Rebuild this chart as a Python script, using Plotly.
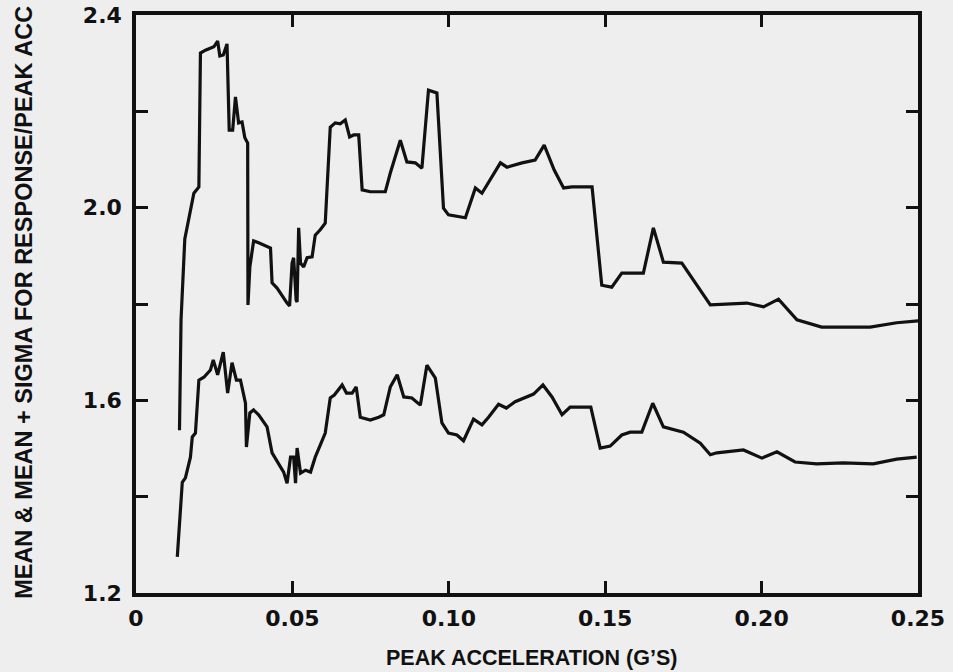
import plotly.graph_objects as go

# Peak acceleration (g's) and response ratios
upper_x = [0.0139, 0.0144, 0.0156, 0.0177, 0.0185, 0.0201, 0.0206, 0.0222, 0.0249, 0.0261,
           0.0268, 0.0279, 0.0291, 0.0298, 0.0309, 0.0318, 0.0328, 0.0339, 0.0348, 0.0357,
           0.0358, 0.0364, 0.0376, 0.0392, 0.0419, 0.0430, 0.0435, 0.0451, 0.0483, 0.0491,
           0.0499, 0.0504, 0.0512, 0.0515, 0.0520, 0.0526, 0.0536, 0.0547, 0.0563, 0.0573,
           0.0589, 0.0605, 0.0621, 0.0637, 0.0653, 0.0669, 0.0683, 0.0696, 0.0712, 0.0723,
           0.0749, 0.0797, 0.0813, 0.0845, 0.0866, 0.0893, 0.0914, 0.0935, 0.0962, 0.0983,
           0.0999, 0.1053, 0.1085, 0.1106, 0.1165, 0.1186, 0.1234, 0.1276, 0.1305, 0.1337,
           0.1367, 0.1394, 0.1458, 0.1489, 0.1521, 0.1553, 0.1622, 0.1654, 0.1686, 0.1745,
           0.1836, 0.1953, 0.2006, 0.2054, 0.2113, 0.2192, 0.2347, 0.2432, 0.2501]
upper_y = [1.538, 1.767, 1.935, 2.010, 2.030, 2.043, 2.321, 2.327, 2.334, 2.346,
           2.315, 2.317, 2.340, 2.161, 2.161, 2.230, 2.176, 2.178, 2.145, 2.134,
           1.798, 1.877, 1.931, 1.927, 1.918, 1.916, 1.844, 1.833, 1.802, 1.796,
           1.885, 1.896, 1.808, 1.804, 1.958, 1.885, 1.877, 1.896, 1.898, 1.943,
           1.954, 1.968, 2.167, 2.176, 2.174, 2.182, 2.147, 2.151, 2.151, 2.037,
           2.033, 2.033, 2.072, 2.140, 2.095, 2.093, 2.082, 2.244, 2.238, 1.999,
           1.985, 1.979, 2.041, 2.030, 2.093, 2.084, 2.093, 2.099, 2.130, 2.078,
           2.041, 2.043, 2.043, 1.839, 1.835, 1.864, 1.864, 1.958, 1.887, 1.885,
           1.798, 1.802, 1.794, 1.810, 1.767, 1.752, 1.752, 1.761, 1.765]

mean_x = [0.0132, 0.0148, 0.0158, 0.0174, 0.0180, 0.0190, 0.0201, 0.0217, 0.0238, 0.0247,
          0.0261, 0.0279, 0.0293, 0.0307, 0.0321, 0.0334, 0.0350, 0.0353, 0.0364, 0.0376,
          0.0392, 0.0419, 0.0435, 0.0456, 0.0472, 0.0483, 0.0494, 0.0504, 0.0510, 0.0515,
          0.0526, 0.0542, 0.0558, 0.0573, 0.0589, 0.0605, 0.0621, 0.0634, 0.0659, 0.0673,
          0.0691, 0.0704, 0.0717, 0.0749, 0.0776, 0.0792, 0.0813, 0.0835, 0.0856, 0.0882,
          0.0909, 0.0930, 0.0957, 0.0978, 0.0999, 0.1026, 0.1047, 0.1079, 0.1106, 0.1127,
          0.1159, 0.1184, 0.1212, 0.1250, 0.1271, 0.1301, 0.1330, 0.1362, 0.1388, 0.1454,
          0.1484, 0.1516, 0.1553, 0.1580, 0.1617, 0.1652, 0.1686, 0.1750, 0.1804, 0.1836,
          0.1857, 0.1942, 0.2001, 0.2049, 0.2107, 0.2176, 0.2261, 0.2357, 0.2432, 0.2496]
mean_y = [1.275, 1.430, 1.439, 1.482, 1.524, 1.532, 1.642, 1.648, 1.663, 1.684,
          1.653, 1.700, 1.615, 1.678, 1.642, 1.642, 1.594, 1.503, 1.574, 1.580,
          1.570, 1.545, 1.491, 1.470, 1.451, 1.428, 1.482, 1.482, 1.428, 1.501,
          1.449, 1.455, 1.451, 1.482, 1.507, 1.532, 1.605, 1.611, 1.632, 1.615,
          1.615, 1.628, 1.565, 1.559, 1.565, 1.570, 1.628, 1.653, 1.607, 1.605,
          1.590, 1.673, 1.646, 1.553, 1.532, 1.528, 1.516, 1.561, 1.549, 1.565,
          1.592, 1.584, 1.597, 1.607, 1.613, 1.632, 1.607, 1.570, 1.586, 1.586,
          1.501, 1.505, 1.528, 1.534, 1.534, 1.594, 1.545, 1.534, 1.511, 1.487,
          1.491, 1.497, 1.480, 1.493, 1.472, 1.468, 1.470, 1.468, 1.478, 1.482]

x_tickvals = [0, 0.05, 0.10, 0.15, 0.20, 0.25]
x_ticktext = ["0", "0.05", "0.10", "0.15", "0.20", "0.25"]
y_tickvals = [1.2, 1.4, 1.6, 1.8, 2.0, 2.2, 2.4]
y_ticktext = ["1.2", "", "1.6", "", "2.0", "", "2.4"]

x_title = "PEAK ACCELERATION (G’S)"
y_title = "MEAN &amp; MEAN + SIGMA FOR RESPONSE/PEAK ACC"

ink = "#111111"
paper = "#eeeeee"

fig = go.Figure()
fig.add_trace(go.Scatter(x=upper_x, y=upper_y, mode="lines",
                         line=dict(color=ink, width=3.2), showlegend=False,
                         name="Mean + sigma"))
fig.add_trace(go.Scatter(x=mean_x, y=mean_y, mode="lines",
                         line=dict(color=ink, width=3.2), showlegend=False,
                         name="Mean"))

tickfont = dict(family="DejaVu Sans", size=22, color=ink, weight="bold")
fig.update_xaxes(range=[0, 0.25], tickvals=x_tickvals, ticktext=x_ticktext,
                 ticks="inside", ticklen=12, tickwidth=3, tickcolor=ink,
                 showline=True, linewidth=3.5, linecolor=ink, mirror="ticks",
                 showgrid=False, zeroline=False, tickfont=tickfont,
                 ticklabelstandoff=3, automargin=False)
fig.update_yaxes(range=[1.2, 2.4], tickvals=y_tickvals, ticktext=y_ticktext,
                 ticks="inside", ticklen=12, tickwidth=3, tickcolor=ink,
                 showline=True, linewidth=3.5, linecolor=ink, mirror="ticks",
                 showgrid=False, zeroline=False, tickfont=tickfont,
                 ticklabelstandoff=6, automargin=False)

fig.add_annotation(text=x_title, xref="paper", yref="paper", x=0.506, y=-0.1125,
                   xanchor="center", yanchor="middle", showarrow=False,
                   font=dict(family="Liberation Sans", size=21.5, color=ink, weight="bold"))
fig.add_annotation(text=y_title, xref="paper", yref="paper", x=-0.1432, y=0.502,
                   xanchor="center", yanchor="middle", showarrow=False, textangle=-90,
                   font=dict(family="Liberation Sans", size=23.5, color=ink, weight="bold"))

fig.update_layout(width=953, height=672,
                  margin=dict(l=136, r=35, t=15, b=79),
                  paper_bgcolor=paper, plot_bgcolor=paper,
                  font=dict(family="Liberation Sans", color=ink))

fig.write_html("out.html", config={"displayModeBar": False},
               post_script="document.body.style.margin='0';")
